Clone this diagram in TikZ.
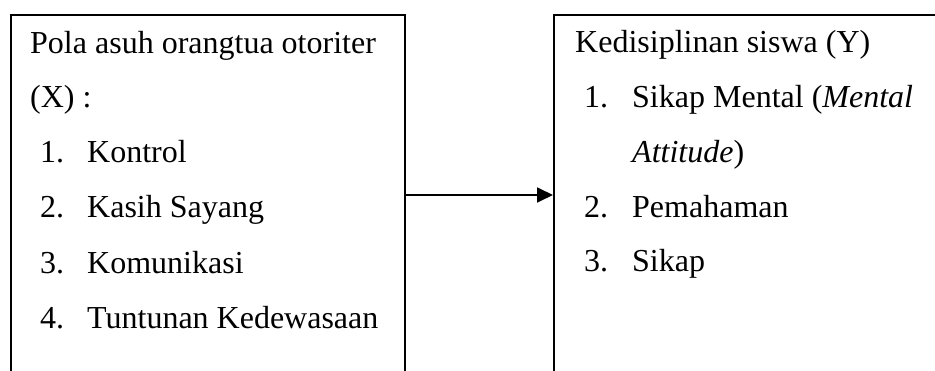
\documentclass[tikz,border=0pt]{standalone}
\usepackage{fontspec}
\setmainfont{Liberation Serif}
\usetikzlibrary{arrows.meta}
\begin{document}
\begin{tikzpicture}[x=1pt,y=-1pt,
  boxframe/.style={draw, line width=1.7pt, anchor=north west, inner sep=0pt},
  txt/.style={anchor=base west, inner sep=0pt, font=\fontsize{32}{38}\selectfont},
  conn/.style={line width=1.8pt, -{Triangle[length=16pt,width=15pt]}}]
\useasboundingbox (0,0) rectangle (935,371);
\begin{scope}
\clip (0,0) rectangle (935,371);
\node[boxframe, minimum width=394pt, minimum height=420pt] (L) at (10,14) {};
\node[boxframe, minimum width=450pt, minimum height=420pt] (R) at (553,14) {};
\end{scope}
% left text
\node[txt] (l0) at (30,54) {Pola asuh orangtua otoriter};
\node[txt] (l1) at (30,108) {(X) :};
\node[txt] (l2n) at (40,163) {1.};
\node[txt] (l2) at (87,163) {Kontrol};
\node[txt] (l3n) at (40,218) {2.};
\node[txt] (l3) at (87,218) {Kasih Sayang};
\node[txt] (l4n) at (40,274) {3.};
\node[txt] (l4) at (87,274) {Komunikasi};
\node[txt] (l5n) at (40,329) {4.};
\node[txt] (l5) at (87,329) {Tuntunan Kedewasaan};
% right text
\node[txt] (r0) at (575,53) {Kedisiplinan siswa (Y)};
\node[txt] (r1n) at (584,108) {1.};
\node[txt] (r1) at (632,108) {Sikap Mental (\textit{Mental}};
\node[txt] (r2) at (632,163) {\textit{Attitude})};
\node[txt] (r3n) at (584,218) {2.};
\node[txt] (r3) at (632,218) {Pemahaman};
\node[txt] (r4n) at (584,272) {3.};
\node[txt] (r4) at (632,272) {Sikap};
% connector
\coordinate (ay) at (0,195);
\draw[conn] (L.east |- ay) -- (R.west |- ay);
\end{tikzpicture}
\end{document}
